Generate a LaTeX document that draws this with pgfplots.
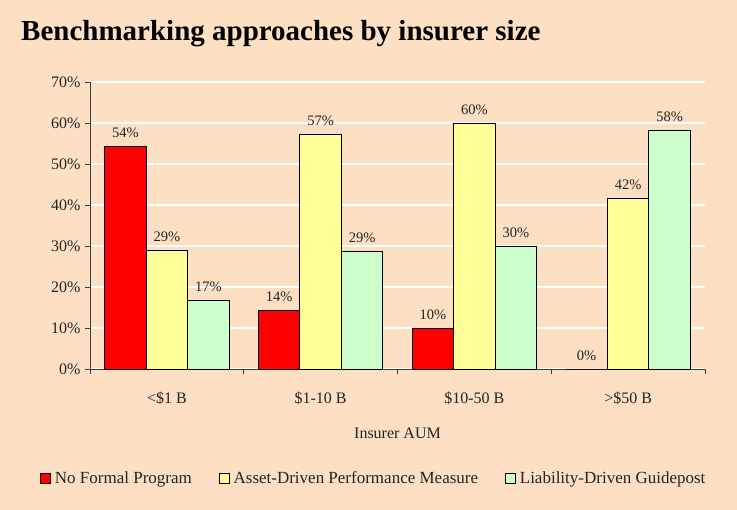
\documentclass[border=0pt]{standalone}
\usepackage{fontspec}
\setmainfont{Liberation Serif}
\usepackage{pgfplots}
\pgfplotsset{compat=1.18}
\definecolor{bg}{RGB}{253,224,196}
\definecolor{cred}{RGB}{255,0,0}
\definecolor{cyel}{RGB}{255,255,153}
\definecolor{cgrn}{RGB}{204,255,204}
\definecolor{txt}{RGB}{35,35,35}
\definecolor{axc}{RGB}{60,60,60}

\pgfplotstableread{
x y
0 54.3
1 14.3
2 10.0
3 0.0
}\nofp
\pgfplotstableread{
x y
0 29.0
1 57.1
2 60.0
3 41.7
}\asset
\pgfplotstableread{
x y
0 16.7
1 28.6
2 30.0
3 58.3
}\liab

\begin{document}
\begin{tikzpicture}[x=1pt,y=1pt]
\fill[bg] (0,0) rectangle (737,510);
\node[anchor=west,font=\fontsize{29}{33}\selectfont\bfseries,inner sep=0pt] at (21,476) {Benchmarking approaches by insurer size};
\begin{axis}[
  at={(90pt,141pt)}, anchor=south west,
  scale only axis, width=615pt, height=287pt,
  ymin=0, ymax=70, xmin=-0.5, xmax=3.5,
  ybar=0pt, bar width=41.5pt,
  /pgf/number format/assume math mode=true,
  axis x line*=bottom, axis y line*=left,
  axis line style={axc, line width=0.9pt},
  tick align=outside, major tick length=5pt,
  tick style={axc, line width=0.9pt},
  ytick={0,10,...,70},
  yticklabels={0\%,10\%,20\%,30\%,40\%,50\%,60\%,70\%},
  yticklabel style={font=\fontsize{16}{18}\selectfont, text=txt, xshift=-1pt},
  xtick={-0.5,0.5,1.5,2.5,3.5},
  xticklabels={},
  extra x ticks={0,1,2,3},
  extra x tick labels={<\$1 B,\$1-10 B,\$10-50 B,>\$50 B},
  extra x tick style={major tick length=0pt, xticklabel style={font=\fontsize{16}{18}\selectfont, text=txt, yshift=-19pt}},
  ymajorgrids, major grid style={white, line width=1.8pt},
  xlabel={Insurer AUM},
  xlabel style={at={(0.5,-0.223)}, anchor=center, font=\fontsize{16}{18}\selectfont, text=txt},
  point meta=y,
  nodes near coords={\pgfmathprintnumber[fixed,precision=0]{\pgfplotspointmeta}\%},
  every node near coord/.append style={font=\fontsize{14.5}{16}\selectfont, text=txt, yshift=5pt},
  legend style={at={(-0.0862,-0.3798)}, anchor=west, draw=none, fill=none,
    font=\fontsize{17}{19}\selectfont, text=txt, legend columns=3,
    /tikz/every even column/.append style={column sep=25pt}},
  legend image code/.code={\draw[#1,draw=black,line width=0.7pt] (0pt,-5pt) rectangle (10pt,5pt); \path (12pt,0pt);},
  clip=false,
]
\addplot[fill=cred, draw=black, line width=0.8pt] table[x=x,y=y] {\nofp};
\addplot[fill=cyel, draw=black, line width=0.8pt] table[x=x,y=y] {\asset};
\addplot[fill=cgrn, draw=black, line width=0.8pt] table[x=x,y=y] {\liab};
\legend{No Formal Program, Asset-Driven Performance Measure, Liability-Driven Guidepost}
\end{axis}
\end{tikzpicture}
\end{document}
